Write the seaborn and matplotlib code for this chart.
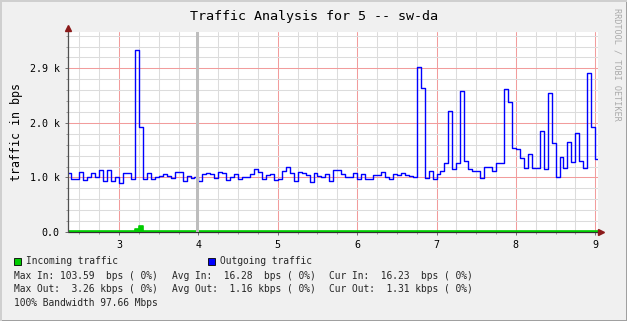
import numpy as np
import pandas as pd
import matplotlib
matplotlib.use("Agg")
import matplotlib.pyplot as plt
import seaborn as sns
from matplotlib.patches import Rectangle
from matplotlib.ticker import FixedLocator

sns.set_theme(style="white")
plt.rcParams["font.family"] = ["DejaVu Sans Mono", "DejaVu Sans"]

# ---------------- data ----------------
title = "Traffic Analysis for 5 -- sw-da"
y_label = "traffic in bps"
side_text = "RRDTOOL / TOBI OETIKER"

x_start = 2.35
x_step = 0.05

out_bps = [
    1055, 946, 946, 1072, 928, 982, 1049, 988, 1108, 910,
    1115, 910, 988, 880, 1049, 1061, 953, 3260, 1875, 953,
    1061, 953, 982, 1010, 1043, 1000, 964, 1072, 1072, 910,
    1000, 964, 990, 905, 1043, 1061, 1043, 970, 1072, 1061,
    928, 988, 1043, 953, 988, 982, 1043, 1133, 1080, 953,
    1020, 1043, 928, 945, 1100, 1157, 1049, 910, 1072, 1061,
    1020, 892, 1061, 1000, 988, 1043, 910, 1108, 1108, 1043,
    988, 988, 1049, 953, 1043, 953, 940, 1020, 1020, 1072,
    988, 953, 1030, 1012, 1061, 1012, 1000, 990, 2960, 2580,
    970, 1097, 953, 1030, 1097, 1242, 2170, 1133, 1242, 2519,
    1272, 1133, 1090, 1090, 970, 1169, 1170, 1090, 1242, 1242,
    2555, 2327, 1500, 1483, 1332, 1151, 1400, 1151, 1151, 1814,
    1121, 2495, 1591, 988, 1350, 1151, 1603, 1250, 1772, 1262,
    1150, 2838, 1875, 1314,
]

in_bps = [
    16, 17, 15, 16, 18, 16, 15, 17, 16, 16,
    15, 17, 16, 18, 16, 15, 17, 60, 100, 18,
    16, 15, 16, 17, 16, 15, 16, 18, 16, 16,
    15, 17, 16, 16, 15, 17, 16, 18, 16, 15,
    16, 17, 16, 15, 16, 18, 16, 16, 15, 17,
    16, 16, 17, 15, 16, 18, 16, 15, 16, 17,
    16, 16, 15, 17, 16, 18, 16, 15, 16, 17,
    16, 15, 16, 18, 16, 17, 15, 16, 16, 17,
    16, 15, 17, 16, 18, 16, 15, 16, 17, 16,
    16, 15, 17, 16, 18, 16, 16, 15, 17, 16,
    16, 15, 16, 18, 17, 16, 15, 16, 17, 16,
    16, 17, 15, 16, 18, 16, 15, 17, 16, 16,
    15, 17, 16, 18, 16, 15, 17, 16, 16, 17,
    16, 15, 17, 16,
]

y_ticks = [0, 976.5625, 1953.125, 2929.6875]
y_tick_labels = ["0.0", "1.0 k", "2.0 k", "2.9 k"]
y_minor = [195.3125 * k for k in range(19) if k % 5 != 0]
x_ticks = [3, 4, 5, 6, 7, 8, 9]
x_tick_labels = ["3", "4", "5", "6", "7", "8", "9"]
x_minor = [2.5, 2.75, 3.25, 3.5, 3.75, 4.25, 4.5, 4.75, 5.25, 5.5, 5.75,
           6.25, 6.5, 6.75, 7.25, 7.5, 7.75, 8.25, 8.5, 8.75]
unknown_span = (3.969, 4.007)

legend_items = ["Incoming traffic", "Outgoing traffic"]
legend_colors = ["#00CC00", "#0000FF"]
stats_rows = [
    ["Max In: 103.59  bps ( 0%)", "Avg In:  16.28  bps ( 0%)", "Cur In:  16.23  bps ( 0%)"],
    ["Max Out:  3.26 kbps ( 0%)", "Avg Out:  1.16 kbps ( 0%)", "Cur Out:  1.31 kbps ( 0%)"],
]
bandwidth_line = "100% Bandwidth 97.66 Mbps"

# ---------------- figure ----------------
W, H = 627, 321
fig = plt.figure(figsize=(W / 100, H / 100), dpi=100, facecolor="#F0F0F0")


def rect(x0, y0, x1, y1):
    return [x0 / W, 1 - y1 / H, (x1 - x0) / W, (y1 - y0) / H]


ax = fig.add_axes(rect(67.5, 32, 598, 232))
ax.set_facecolor("white")

n = len(out_bps)
t = x_start + x_step * np.arange(n + 1)
df = pd.DataFrame({
    "t": t,
    "out": out_bps + [out_bps[-1]],
    "in": in_bps + [in_bps[-1]],
})

ax.fill_between(df["t"], 0, df["in"], step="post", color="#00CC00", lw=0, zorder=3)
sns.lineplot(data=df, x="t", y="in", drawstyle="steps-post", color="#00CC00",
             lw=1.2, ax=ax, zorder=3)
sns.lineplot(data=df, x="t", y="out", drawstyle="steps-post", color="#0000FF",
             lw=1.0, ax=ax, zorder=4)

ax.axvspan(*unknown_span, color="#BDBDBD", lw=0, zorder=5)

ax.set_xlim(2.35, 9.035)
ax.set_ylim(0, 3580)

ax.xaxis.set_major_locator(FixedLocator(x_ticks))
ax.xaxis.set_minor_locator(FixedLocator(x_minor))
ax.yaxis.set_major_locator(FixedLocator(y_ticks))
ax.yaxis.set_minor_locator(FixedLocator(y_minor))
ax.set_xticklabels(x_tick_labels)
ax.set_yticklabels(y_tick_labels)

ax.grid(which="minor", color="#DCDCDC", lw=0.75, zorder=0)
ax.grid(which="major", color="#F29C9C", lw=0.75, zorder=1)
ax.set_axisbelow(True)

for s in ax.spines.values():
    s.set_visible(False)

ax.tick_params(which="major", direction="out", length=2.5, width=0.7, color="#707070",
               labelsize=7.2, labelcolor="black", pad=3)
ax.tick_params(which="minor", direction="out", length=1.5, width=0.6, color="#909090")
ax.tick_params(axis="x", which="both", bottom=True)
ax.tick_params(axis="y", which="both", left=True)

ax.set_xlabel("")
ax.set_ylabel("")

# axis lines with arrows
ax.plot([0, 0], [0, 1.02], transform=ax.transAxes, color="#505050", lw=0.9,
        clip_on=False, zorder=6)
ax.plot([0, 1.005], [0, 0], transform=ax.transAxes, color="#303030", lw=0.9,
        clip_on=False, zorder=2)
ax.plot([0], [1.02], transform=ax.transAxes, marker="^", ms=4, color="#8B1A1A",
        clip_on=False, zorder=7)
ax.plot([1.006], [0], transform=ax.transAxes, marker=">", ms=4, color="#8B1A1A",
        clip_on=False, zorder=7)

# texts
fig.text(313.5 / W, 1 - 16.5 / H, title, ha="center", va="center", fontsize=9.6,
         color="black")
fig.text(17 / W, 1 - 132 / H, y_label, ha="center", va="center", rotation=90,
         fontsize=8.4, color="black")
fig.text(617 / W, 1 - 64 / H, side_text, ha="center", va="center", rotation=270,
         fontsize=6.1, color="#AAAAAA")

# legend
leg_y = 261
for (label, col, sx, tx) in zip(legend_items, legend_colors, [14, 208], [26, 220]):
    fig.patches.append(Rectangle((sx / W, 1 - (leg_y + 3.5) / H), 6.5 / W, 6.5 / H,
                                 transform=fig.transFigure, facecolor=col,
                                 edgecolor="black", lw=0.6))
    fig.text(tx / W, 1 - leg_y / H, label, ha="left", va="center", fontsize=6.9)

col_x = [14, 171.7, 329.3]
for row, ry in zip(stats_rows, [275.7, 289]):
    for txt, cx in zip(row, col_x):
        fig.text(cx / W, 1 - ry / H, txt, ha="left", va="center", fontsize=6.9)
fig.text(14 / W, 1 - 303.3 / H, bandwidth_line, ha="left", va="center", fontsize=6.9)

# frame
fig.patches.append(Rectangle((0, 0), 1, 1.5 / H, transform=fig.transFigure,
                             color="#A0A0A0", lw=0))
fig.patches.append(Rectangle((1 - 1.5 / W, 0), 1.5 / W, 1, transform=fig.transFigure,
                             color="#A0A0A0", lw=0))
fig.patches.append(Rectangle((0, 1 - 1.5 / H), 1, 1.5 / H, transform=fig.transFigure,
                             color="#CFCFCF", lw=0))
fig.patches.append(Rectangle((0, 0), 1.5 / W, 1, transform=fig.transFigure,
                             color="#CFCFCF", lw=0))

fig.savefig("out.png", dpi=100, facecolor=fig.get_facecolor())
